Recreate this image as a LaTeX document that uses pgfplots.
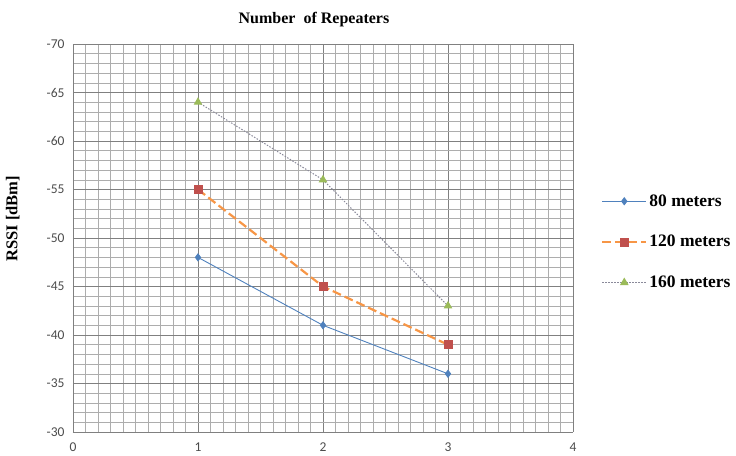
\documentclass[border=0pt]{standalone}
\usepackage{pgfplots}
\pgfplotsset{compat=1.18}
\usepackage{fontspec}
\setmainfont{Liberation Serif}
\newfontfamily\tickfont{Carlito}

\definecolor{sblue}{HTML}{4F81BD}
\definecolor{sorange}{HTML}{F79646}
\definecolor{sred}{HTML}{C0504D}
\definecolor{sgreen}{HTML}{9BBB59}
\definecolor{sgrey}{HTML}{8A8A9A}

\begin{document}
\begin{tikzpicture}
\begin{axis}[
  scale only axis, width=500pt, height=388pt,
  xmin=0, xmax=4, ymin=-70, ymax=-30,
  y dir=reverse,
  xtick={0,1,2,3,4}, ytick={-70,-65,...,-30},
  minor x tick num=9, minor y tick num=4,
  grid=both,
  major grid style={draw=black!50, line width=0.8pt},
  minor grid style={draw=black!32, line width=0.6pt},
  axis line style={draw=black!50},
  axis x line*=bottom, axis y line*=left,
  tick style={draw=none},
  /pgf/number format/assume math mode=true,
  ticklabel style={font=\tickfont\fontsize{13.5}{13.5}\selectfont, text=black!70},
  xticklabel style={yshift=-7pt},
  yticklabel style={xshift=-5pt},
  title={\textbf{Number\ \ of Repeaters}},
  title style={font=\fontsize{16}{16}\selectfont, at={(axis description cs:0.482,1)}, anchor=south, yshift=8pt},
  ylabel={\textbf{RSSI [dBm]}},
  ylabel style={font=\fontsize{16.5}{16.5}\selectfont, at={(axis description cs:-0.1,0.55)}, anchor=south},
  legend style={at={(axis description cs:1.05,0.49)}, anchor=west, draw=none, fill=none,
    font=\fontsize{17.5}{17.5}\selectfont\bfseries, row sep=23.5pt},
  legend cell align=left,
  legend image code/.code={\draw[mark repeat=2,mark phase=2] plot coordinates {(0pt,0pt) (22pt,0pt) (44pt,0pt)};},
]
\addplot[color=sblue, line width=0.9pt, mark=diamond*, mark size=3.5pt, mark options={solid, fill=sblue}]
  coordinates {(1,-48) (2,-41) (3,-36)};
\addlegendentry{80 meters}
\addplot[color=sorange, line width=2.2pt, dash pattern=on 9pt off 4pt, mark=square*, mark size=4pt, mark options={solid, draw=sred, fill=sred, line width=0.5pt}]
  coordinates {(1,-55) (2,-45) (3,-39)};
\addlegendentry{120 meters}
\addplot[color=sgrey, line width=1pt, dash pattern=on 1.5pt off 1.5pt, mark=triangle*, mark size=4pt, mark options={solid, draw=sgreen, fill=sgreen}]
  coordinates {(1,-64) (2,-56) (3,-43)};
\addlegendentry{160 meters}
\end{axis}
\pgfresetboundingbox
\path (current axis.south west) ++(-73pt,-23pt) rectangle ++(736pt,455pt);
\end{tikzpicture}
\end{document}
